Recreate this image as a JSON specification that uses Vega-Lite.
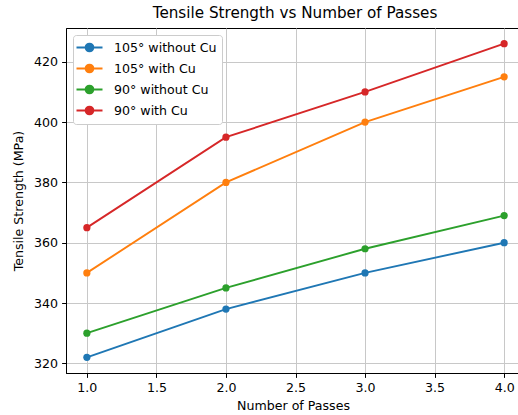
{
  "$schema": "https://vega.github.io/schema/vega-lite/v6.json",
  "width": 454,
  "height": 345,
  "autosize": {"type": "none"},
  "padding": {"left": 66, "top": 28, "right": -2, "bottom": 42},
  "title": {
    "text": "Tensile Strength vs Number of Passes",
    "fontSize": 15.2,
    "fontWeight": "normal",
    "font": "DejaVu Sans",
    "color": "#000000",
    "offset": 7,
    "dx": 2
  },
  "data": {
    "values": [
      {"passes": 1, "strength": 322, "series": "105° without Cu"},
      {"passes": 2, "strength": 338, "series": "105° without Cu"},
      {"passes": 3, "strength": 350, "series": "105° without Cu"},
      {"passes": 4, "strength": 360, "series": "105° without Cu"},
      {"passes": 1, "strength": 350, "series": "105° with Cu"},
      {"passes": 2, "strength": 380, "series": "105° with Cu"},
      {"passes": 3, "strength": 400, "series": "105° with Cu"},
      {"passes": 4, "strength": 415, "series": "105° with Cu"},
      {"passes": 1, "strength": 330, "series": "90° without Cu"},
      {"passes": 2, "strength": 345, "series": "90° without Cu"},
      {"passes": 3, "strength": 358, "series": "90° without Cu"},
      {"passes": 4, "strength": 369, "series": "90° without Cu"},
      {"passes": 1, "strength": 365, "series": "90° with Cu"},
      {"passes": 2, "strength": 395, "series": "90° with Cu"},
      {"passes": 3, "strength": 410, "series": "90° with Cu"},
      {"passes": 4, "strength": 426, "series": "90° with Cu"}
    ]
  },
  "config": {
    "font": "DejaVu Sans",
    "view": {"stroke": "#000000", "strokeWidth": 1},
    "axis": {
      "labelFont": "DejaVu Sans",
      "labelFontSize": 12.6,
      "labelColor": "#000000",
      "titleFont": "DejaVu Sans",
      "titleFontSize": 12.6,
      "titleFontWeight": "normal",
      "titleColor": "#000000",
      "domainColor": "#000000",
      "tickColor": "#000000",
      "tickSize": 4.4,
      "labelPadding": 4,
      "gridColor": "#c8c8c8",
      "gridWidth": 1
    }
  },
  "encoding": {
    "x": {
      "field": "passes",
      "type": "quantitative",
      "title": "Number of Passes",
      "scale": {"domain": [0.85, 4.114], "nice": false, "zero": false},
      "axis": {"values": [1, 1.5, 2, 2.5, 3, 3.5, 4], "format": ".1f", "titlePadding": 5}
    },
    "y": {
      "field": "strength",
      "type": "quantitative",
      "title": "Tensile Strength (MPa)",
      "scale": {"domain": [316.8, 431.2], "nice": false, "zero": false},
      "axis": {"values": [320, 340, 360, 380, 400, 420], "titlePadding": 8}
    },
    "color": {
      "field": "series",
      "type": "nominal",
      "scale": {
        "domain": ["105° without Cu", "105° with Cu", "90° without Cu", "90° with Cu"],
        "range": ["#1f77b4", "#ff7f0e", "#2ca02c", "#d62728"]
      },
      "legend": {
        "title": null,
        "orient": "none",
        "legendX": 7,
        "legendY": 7,
        "fillColor": "#ffffff",
        "strokeColor": "#cccccc",
        "cornerRadius": 3,
        "padding": 5,
        "labelFont": "DejaVu Sans",
        "labelFontSize": 12.6,
        "labelColor": "#000000",
        "symbolType": "M-2,0H2M0.6,0A0.6,0.6 0 1,1 -0.6,0A0.6,0.6 0 1,1 0.6,0Z",
        "symbolSize": 169,
        "symbolStrokeWidth": 1.9,
        "symbolOffset": 4,
        "labelOffset": 17,
        "rowPadding": 4,
        "encode": {
          "symbols": {
            "update": {
              "fill": {"scale": "color", "field": "value"},
              "stroke": {"scale": "color", "field": "value"},
              "opacity": {"value": 1}
            }
          }
        }
      }
    }
  },
  "layer": [
    {"mark": {"type": "line", "strokeWidth": 1.9}},
    {"mark": {"type": "point", "filled": true, "size": 52, "opacity": 1}}
  ]
}
